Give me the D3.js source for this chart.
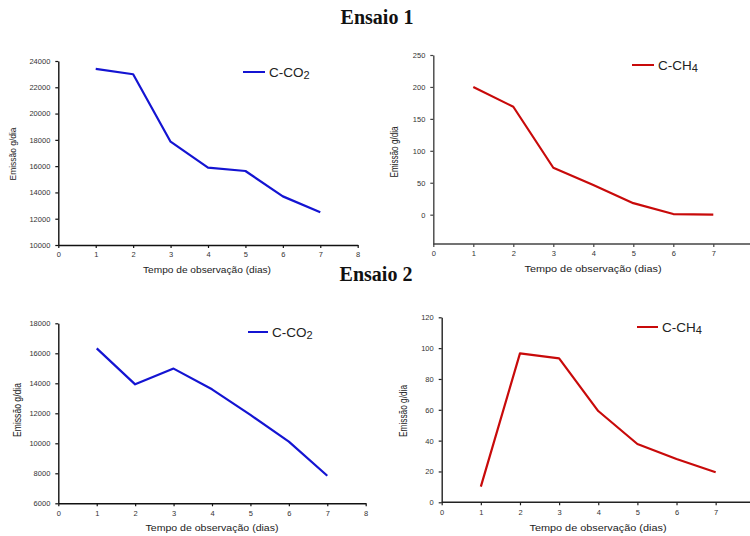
<!DOCTYPE html>
<html><head><meta charset="utf-8">
<script src="https://cdn.jsdelivr.net/npm/d3@7"></script>
<style>body{margin:0;background:#fff}svg{display:block}</style>
</head><body>
<svg id="c" width="750" height="536"></svg>
<script>
const days = [1,2,3,4,5,6,7];
const xTicksA = [0,1,2,3,4,5,6,7,8];
const xTicksB = [0,1,2,3,4,5,6,7];
const co2Ensaio1 = [23400,22990,17860,15880,15630,13700,12490];
const ch4Ensaio1 = [200,169,73.5,46.5,18,1,0];
const co2Ensaio2 = [16330,13930,14980,13600,11890,10110,7840];
const ch4Ensaio2 = [10.2,96.6,93.4,59.2,37.8,28.1,19.5];
const yTicks1 = [10000,12000,14000,16000,18000,20000,22000,24000];
const yTicks2 = [0,50,100,150,200,250];
const yTicks3 = [6000,8000,10000,12000,14000,16000,18000];
const yTicks4 = [0,20,40,60,80,100,120];
const titles = ["Ensaio 1","Ensaio 2"];
const xTitle = "Tempo de observação (dias)";
const yTitle = "Emissão g/dia";
const blue = "#1414d2", red = "#c80a0a";

const svg = d3.select("#c");

svg.append("text").attr("x",377).attr("y",24).attr("text-anchor","middle")
  .attr("font-family","Liberation Serif").attr("font-weight","bold").attr("font-size",20)
  .attr("fill","#111").text(titles[0]);
svg.append("text").attr("x",376).attr("y",281).attr("text-anchor","middle")
  .attr("font-family","Liberation Serif").attr("font-weight","bold").attr("font-size",20)
  .attr("fill","#111").text(titles[1]);

function panel(o){
  const x = d3.scaleLinear().domain([0,8]).range([o.x0,o.x8]);
  const y = d3.scaleLinear().domain(o.ydom).range([o.yb,o.yt]);
  const g = svg.append("g");
  const ax = g.append("g").attr("transform",`translate(0,${o.yb})`)
    .call(d3.axisBottom(x).tickValues(o.xt).tickSize(3).tickSizeOuter(0).tickPadding(4).tickFormat(d3.format("d")));
  const ay = g.append("g").attr("transform",`translate(${o.x0},0)`)
    .call(d3.axisLeft(y).tickValues(o.yt_).tickSize(3).tickSizeOuter(0).tickPadding(5).tickFormat(d3.format("d")));
  if(o.xEnd){ax.select(".domain").attr("d",`M${o.x0},0H${o.xEnd}`);}
  [ax,ay].forEach(a=>{
    a.select(".domain").attr("stroke",o.axc).attr("stroke-width",1.4);
    a.selectAll(".tick line").attr("stroke",o.axc).attr("stroke-width",1.2);
    a.selectAll(".tick text").attr("font-family","Liberation Sans").attr("font-size",7.5).attr("fill","#333");
  });
  g.append("path").datum(o.vals.map((v,i)=>[days[i],v]))
    .attr("fill","none").attr("stroke",o.color).attr("stroke-width",2.2)
    .attr("stroke-linejoin","round")
    .attr("d",d3.line().x(d=>x(d[0])).y(d=>y(d[1])));
  g.append("text").attr("x",o.xtx).attr("y",o.xty).attr("text-anchor","middle")
    .attr("font-family","Liberation Sans").attr("font-size",9.5).attr("fill","#222")
    .attr("textLength",o.xtl).attr("lengthAdjust","spacingAndGlyphs").text(xTitle);
  g.append("text").attr("transform",`translate(${o.ytx},${o.yty}) rotate(-90)`)
    .attr("text-anchor","middle").attr("font-family","Liberation Sans").attr("font-size",o.ytf)
    .attr("fill","#222").attr("textLength",o.ytl).attr("lengthAdjust","spacingAndGlyphs").text(yTitle);
  g.append("line").attr("x1",o.lx).attr("x2",o.lx+o.lw).attr("y1",o.ly).attr("y2",o.ly)
    .attr("stroke",o.color).attr("stroke-width",2);
  const t = g.append("text").attr("x",o.lx+o.lw+4).attr("y",o.ly+5)
    .attr("font-family","Liberation Sans").attr("font-size",13.5).attr("fill","#222");
  t.append("tspan").text(o.leg[0]);
  t.append("tspan").attr("font-size",11).attr("dy",2).text(o.leg[1]);
}

panel({x0:58.3,x8:357.7,yb:245,yt:61,ydom:[10000,24000],xt:xTicksA,yt_:yTicks1,
  vals:co2Ensaio1,color:blue,axc:"#111",xtx:207,xty:273,xtl:128,ytx:16,yty:154,ytf:9,ytl:53,
  lx:243,lw:22,ly:72,leg:["C-CO","2"]});
panel({x0:433.3,x8:753.3,yb:244,yt:55,ydom:[-45.9,250],xt:xTicksB,yt_:yTicks2,xEnd:750,
  vals:ch4Ensaio1,color:red,axc:"#444",xtx:593,xty:272,xtl:137,ytx:398,yty:152,ytf:10,ytl:51,
  lx:632,lw:22,ly:65,leg:["C-CH","4"]});
panel({x0:58.3,x8:365.7,yb:503.3,yt:323.3,ydom:[6000,18000],xt:xTicksA,yt_:yTicks3,
  vals:co2Ensaio2,color:blue,axc:"#111",xtx:212,xty:531,xtl:133,ytx:21,yty:410,ytf:10,ytl:54,
  lx:248,lw:20,ly:332,leg:["C-CO","2"]});
panel({x0:441.7,x8:754.8,yb:502.3,yt:317.3,ydom:[0,120],xt:xTicksB,yt_:yTicks4,xEnd:750,
  vals:ch4Ensaio2,color:red,axc:"#222",xtx:598,xty:531,xtl:137,ytx:407,yty:411,ytf:10,ytl:52,
  lx:637,lw:21,ly:327,leg:["C-CH","4"]});
</script>
</body></html>
